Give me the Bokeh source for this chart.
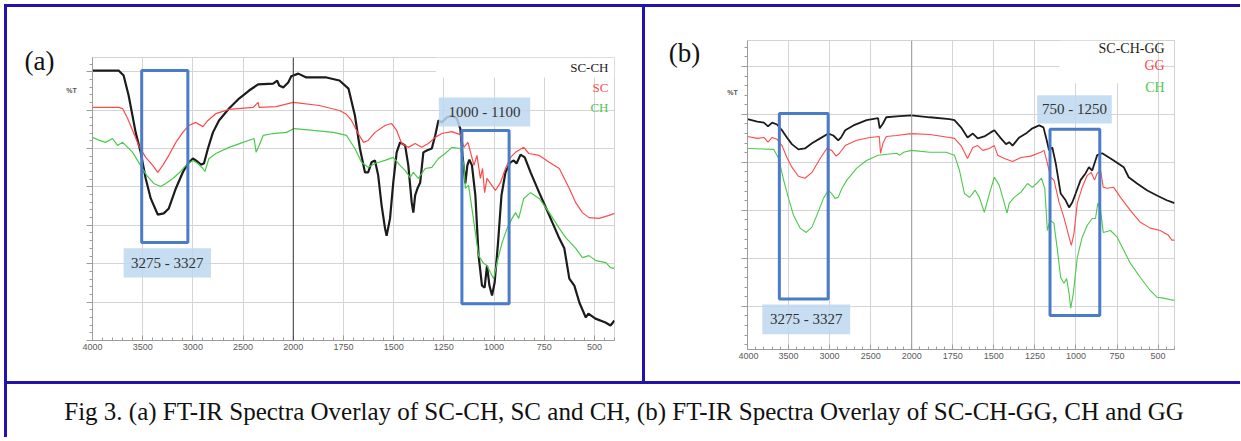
import numpy as np
from bokeh.plotting import figure
from bokeh.models import Range1d, FixedTicker, Span, Spacer, ColumnDataSource
from bokeh.layouts import row, column
from bokeh.embed import file_html
from bokeh.resources import INLINE
from bokeh.core.properties import value

# ---------------- data (wavenumber cm-1, %T arbitrary units) ----------------
TICK_WN = [4000, 3500, 3000, 2500, 2000, 1750, 1500, 1250, 1000, 750, 500]
MINOR_WN = list(range(4000, 2000, -100)) + list(range(2000, 399, -50))

# Panel (a)
A_SCCH_WN = [4000, 3740, 3690, 3640, 3570, 3520, 3470, 3420, 3350, 3290, 3240, 3170, 3100, 3050, 3000,
             2970, 2920, 2890, 2850, 2800, 2740, 2640, 2540, 2440, 2350, 2200, 2160, 2140, 2100, 2050,
             2020, 1975, 1935, 1835, 1770, 1725, 1693, 1668, 1643, 1627, 1610, 1593, 1577, 1560, 1543,
             1535, 1518, 1502, 1485, 1468, 1443, 1427, 1410, 1402, 1393, 1380, 1368, 1352, 1335, 1310,
             1293, 1277, 1260, 1235, 1210, 1185, 1168, 1157, 1143, 1133, 1123, 1110, 1093, 1077, 1060,
             1047, 1035, 1023, 1010, 997, 980, 963, 943, 918, 902, 888, 868, 847, 818, 775, 725, 675,
             650, 625, 600, 575, 543, 530, 495, 445, 420, 400]
A_SCCH_T = [70.3, 70.3, 69.0, 63.8, 54.2, 49.0, 42.2, 37.0, 32.8, 33.1, 34.4, 39.6, 43.8, 46.1, 47.4,
            46.9, 45.8, 46.1, 50.0, 54.2, 57.3, 60.4, 63.0, 65.1, 66.7, 66.9, 67.7, 66.4, 65.9, 67.2,
            68.8, 69.5, 68.5, 68.5, 67.7, 65.6, 58.6, 50.0, 43.8, 43.8, 46.4, 46.9, 43.0, 35.2, 29.2,
            27.3, 31.8, 41.1, 49.0, 51.6, 50.8, 45.6, 35.9, 33.3, 37.8, 39.8, 41.1, 49.0, 49.5, 50.0,
            53.4, 57.3, 56.8, 58.1, 58.6, 57.8, 55.2, 48.2, 40.9, 45.6, 47.1, 45.6, 37.8, 22.1, 14.3,
            13.8, 19.5, 14.3, 11.7, 15.1, 25.5, 37.8, 43.8, 46.4, 46.9, 46.1, 48.4, 47.7, 43.8, 38.5,
            32.6, 26.6, 24.0, 16.1, 14.3, 9.9, 6.0, 7.0, 5.7, 4.7, 3.9, 5.2]

A_SC_WN = [4000, 3740, 3700, 3650, 3600, 3540, 3470, 3400, 3350, 3300, 3240, 3170, 3100, 3040, 2970,
           2900, 2850, 2770, 2640, 2400, 2350, 2340, 2170, 2000, 1870, 1770, 1735, 1710, 1677, 1650,
           1627, 1593, 1543, 1510, 1485, 1460, 1427, 1393, 1360, 1327, 1293, 1260, 1210, 1168, 1150,
           1130, 1113, 1100, 1085, 1068, 1057, 1047, 1035, 1018, 993, 968, 943, 918, 893, 852, 827,
           775, 725, 675, 625, 593, 560, 527, 477, 427, 400]
A_SC_T = [60.7, 60.7, 60.4, 57.8, 54.7, 50.8, 47.7, 45.6, 43.8, 45.6, 48.2, 51.6, 54.2, 56.0, 56.8,
          55.7, 57.3, 59.1, 60.2, 60.7, 62.0, 60.7, 60.9, 62.0, 61.2, 59.9, 58.9, 57.3, 53.9, 51.6,
          52.1, 54.2, 56.0, 56.5, 54.7, 51.3, 50.3, 51.3, 50.3, 51.3, 52.9, 53.9, 54.4, 53.6, 50.3,
          51.6, 48.2, 45.6, 48.2, 42.2, 44.8, 38.5, 42.2, 40.9, 39.1, 41.1, 44.8, 47.7, 49.0, 50.3, 48.7,
          48.2, 46.4, 44.8, 39.6, 35.9, 33.3, 32.0, 31.8, 32.6, 33.1]

A_CH_WN = [4000, 3930, 3870, 3800, 3750, 3700, 3650, 3600, 3540, 3460, 3390, 3320, 3270, 3200, 3130,
           3070, 3000, 2950, 2900, 2880, 2840, 2770, 2640, 2500, 2390, 2370, 2340, 2300, 2200, 2070,
           1995, 1900, 1800, 1735, 1725, 1693, 1660, 1627, 1593, 1543, 1502, 1468, 1443, 1418, 1402,
           1377, 1343, 1310, 1277, 1243, 1210, 1168, 1150, 1143, 1127, 1100, 1077, 1052, 1035, 1018,
           1002, 985, 960, 935, 910, 893, 877, 852, 818, 775, 725, 675, 643, 593, 560, 527, 493, 443,
           420, 400]
A_CH_T = [52.9, 52.1, 51.6, 52.6, 50.8, 51.6, 50.3, 49.0, 46.4, 43.0, 40.9, 40.1, 40.9, 42.2, 43.8,
          45.6, 46.9, 46.1, 44.8, 44.0, 47.4, 48.7, 50.3, 51.6, 52.6, 49.0, 50.8, 53.4, 53.9, 54.2,
          55.2, 54.7, 54.2, 53.4, 52.6, 50.0, 46.4, 45.1, 46.1, 46.9, 47.7, 45.6, 44.3, 42.4, 43.8,
          42.2, 44.8, 45.1, 47.4, 48.7, 50.3, 50.0, 45.6, 39.6, 40.4, 30.7, 22.1, 20.1, 19.5, 17.7,
          16.1, 20.3, 25.5, 29.2, 31.8, 33.3, 31.8, 37.0, 38.5, 37.0, 33.3, 29.2, 26.8, 24.0, 21.6, 22.1,
          20.8, 20.3, 19.0, 18.8]

# Panel (b)
B_SCCHGG_WN = [4000, 3880, 3800, 3750, 3700, 3640, 3580, 3520, 3460, 3380, 3300, 3215, 3115, 3015, 2955,
               2895, 2860, 2810, 2710, 2550, 2410, 2390, 2350, 2310, 2185, 2005, 1890, 1770, 1740, 1700,
               1660, 1628, 1598, 1558, 1517, 1497, 1457, 1426, 1406, 1386, 1345, 1305, 1265, 1224, 1198,
               1178, 1164, 1144, 1123, 1093, 1063, 1042, 1022, 1002, 972, 942, 921, 901, 871, 840, 770,
               709, 679, 628, 568, 507, 447, 416, 400]
B_SCCHGG_T = [49.0, 48.5, 48.3, 47.5, 48.3, 47.9, 46.7, 45.2, 43.8, 42.7, 42.9, 44.0, 45.0, 46.0, 45.6,
              44.6, 45.2, 46.7, 47.7, 48.8, 49.2, 47.1, 48.1, 49.4, 49.6, 49.8, 49.4, 49.0, 48.8, 47.3,
              45.2, 46.0, 45.0, 45.4, 46.3, 46.7, 45.0, 43.8, 44.2, 43.5, 45.2, 46.0, 47.1, 47.7, 47.3,
              44.6, 42.5, 43.1, 39.8, 33.5, 32.1, 30.6, 31.7, 33.5, 36.3, 37.7, 39.0, 38.3, 41.5, 41.9, 40.4,
              39.0, 36.9, 35.6, 34.2, 33.1, 32.1, 31.7, 31.5]

B_GG_WN = [4000, 3880, 3800, 3750, 3700, 3640, 3580, 3520, 3460, 3380, 3300, 3215, 3115, 3035, 2975,
           2920, 2880, 2810, 2670, 2510, 2395, 2380, 2350, 2310, 2185, 2005, 1890, 1770, 1740, 1700,
           1660, 1628, 1598, 1568, 1527, 1497, 1477, 1436, 1386, 1335, 1275, 1214, 1194, 1174, 1154,
           1134, 1103, 1073, 1042, 1028, 1012, 992, 962, 931, 907, 887, 871, 850, 834, 810, 770, 729,
           669, 608, 548, 487, 437, 416, 400]
B_GG_T = [45.4, 45.0, 45.2, 44.2, 45.2, 44.8, 43.5, 41.0, 39.0, 37.1, 36.7, 37.9, 40.8, 42.9, 42.5,
          41.3, 41.9, 43.5, 44.6, 45.2, 45.4, 41.9, 44.0, 45.4, 45.6, 46.0, 45.8, 45.2, 45.0, 43.5,
          40.8, 43.1, 43.5, 42.5, 42.9, 43.5, 41.5, 40.8, 40.2, 41.0, 41.3, 42.1, 42.5, 39.8, 36.9,
          36.3, 31.7, 28.5, 24.4, 22.7, 25.2, 31.5, 34.8, 37.3, 37.9, 36.3, 37.7, 38.3, 34.8, 34.6, 34.8,
          32.7, 30.0, 27.5, 26.3, 25.8, 24.8, 23.8, 23.8]

B_CH_WN = [4000, 3680, 3620, 3560, 3500, 3440, 3360, 3285, 3215, 3155, 3075, 3015, 2975, 2935, 2895,
           2850, 2790, 2670, 2550, 2410, 2185, 2145, 2100, 2005, 1890, 1790, 1740, 1709, 1679, 1648,
           1614, 1588, 1558, 1527, 1497, 1467, 1436, 1420, 1406, 1376, 1335, 1295, 1265, 1234, 1210,
           1190, 1174, 1158, 1134, 1113, 1093, 1073, 1057, 1042, 1032, 1016, 992, 962, 931, 901, 881,
           867, 850, 834, 790, 749, 709, 669, 608, 548, 507, 467, 416, 400]
B_CH_T = [42.9, 42.7, 40.8, 36.3, 32.5, 29.0, 26.3, 25.4, 26.5, 29.0, 32.5, 34.2, 33.5, 32.5, 32.7,
          34.6, 36.3, 38.8, 40.4, 41.5, 41.9, 41.5, 42.1, 42.5, 42.1, 42.1, 41.5, 38.3, 33.5, 32.7,
          34.2, 32.7, 29.6, 33.5, 36.9, 35.2, 31.5, 29.4, 31.5, 32.7, 33.8, 35.6, 34.8, 35.8, 36.7,
          34.6, 25.8, 27.9, 27.3, 21.7, 16.0, 14.8, 15.8, 12.7, 9.6, 12.7, 20.2, 24.4, 26.9, 28.3, 28.3,
          31.5, 30.0, 25.4, 25.8, 24.4, 21.7, 19.0, 16.0, 13.3, 11.9, 11.7, 11.3, 11.3]

# highlighted wavenumber regions: (wn_high, wn_low, T_top, T_bottom)
A_REGIONS = [(3510, 3050, 70.3, 25.5), (1160, 925, 54.7, 9.6)]
A_REGION_TEXT = ["3275 - 3327", "1000 - 1100"]
A_TEXT_BOX = [(3690, 2820, 24.0, 16.4), (1275, 820, 63.3, 55.7)]

B_REGIONS = [(3612, 3018, 50.2, 11.5), (1158, 855, 46.9, 8.1)]
B_REGION_TEXT = ["3275 - 3327", "750 - 1250"]
B_TEXT_BOX = [(3820, 2750, 10.4, 4.2), (1236, 782, 54.0, 48.1)]

CAPTION = "Fig 3. (a) FT-IR Spectra Overlay of SC-CH, SC and CH, (b) FT-IR Spectra Overlay of SC-CH-GG, CH and GG"

BORDER = "#2312b0"
BLACK, RED, GREEN = "#1c1c1c", "#ff4a4a", "#4cc94c"
BOXBLUE = "#4a7cc9"
LABELBG = "#bdd7ee"
PANEL_H = 374


def to_u(wn):
    """Piecewise FT-IR axis: 4000-2000 compressed by 2x relative to 2000-400."""
    wn = np.asarray(wn, dtype=float)
    return np.where(wn >= 2000, (4000 - wn) / 2.0, 3000 - wn)


def make_panel(width, borders, yrange, series, regions, region_text, text_boxes,
               legend_xy, legend_size, white_box, line2000):
    left, right, top, bottom = borders
    p = figure(width=width, height=PANEL_H, x_range=Range1d(0, 2600), y_range=Range1d(*yrange),
               output_backend="svg", toolbar_location=None,
               min_border_left=left, min_border_right=right,
               min_border_top=top, min_border_bottom=bottom)
    p.frame_align = False
    p.background_fill_color = "white"
    p.border_fill_color = "white"
    p.outline_line_color = "#d2d2d2"

    ticks = [int(v) for v in to_u(TICK_WN)]
    p.xaxis.ticker = FixedTicker(ticks=ticks, minor_ticks=[int(v) for v in to_u(MINOR_WN)])
    p.xaxis.major_label_overrides = {t: str(w) for t, w in zip(ticks, TICK_WN)}
    p.xaxis.axis_line_color = "#9c9c9c"
    p.xaxis.major_tick_line_color = "#9c9c9c"
    p.xaxis.minor_tick_line_color = "#9c9c9c"
    p.xaxis.major_tick_in = 5
    p.xaxis.major_tick_out = 0
    p.xaxis.minor_tick_in = 3
    p.xaxis.minor_tick_out = 0
    p.xaxis.major_label_text_font = "Liberation Sans"
    p.xaxis.major_label_text_font_size = "9px"
    p.xaxis.major_label_text_color = "#5a5a5a"
    p.xaxis.major_label_standoff = 3

    yt = list(range(0, 80, 10))
    p.yaxis.ticker = FixedTicker(ticks=yt, minor_ticks=list(range(0, 76, 2)))
    p.yaxis.major_label_overrides = {t: "" for t in yt}
    p.yaxis.major_label_standoff = 0
    p.yaxis.axis_line_color = "#9c9c9c"
    p.yaxis.major_tick_line_color = "#9c9c9c"
    p.yaxis.minor_tick_line_color = "#9c9c9c"
    p.yaxis.major_tick_in = 0
    p.yaxis.major_tick_out = 6
    p.yaxis.minor_tick_in = 0
    p.yaxis.minor_tick_out = 3

    p.xgrid.grid_line_color = "#d4d4d4"
    p.ygrid.grid_line_color = "#d4d4d4"

    p.add_layout(Span(location=1000, dimension="height", line_color=line2000, line_width=1))

    # white area behind the legend
    wl, wr, wt, wb = white_box
    p.quad(left=[float(to_u(wl))], right=[float(to_u(wr))], top=[wt], bottom=[wb],
           fill_color="white", line_color=None)

    for wn, t, col, lw, _name in series:
        p.line(to_u(wn), t, line_color=col, line_width=lw)

    for (hi, lo, tp, bt) in regions:
        p.quad(left=[float(to_u(hi))], right=[float(to_u(lo))], top=[tp], bottom=[bt],
               fill_color=None, line_color=BOXBLUE, line_width=3)

    for txt, (hi, lo, tp, bt) in zip(region_text, text_boxes):
        p.quad(left=[float(to_u(hi))], right=[float(to_u(lo))], top=[tp], bottom=[bt],
               fill_color=LABELBG, fill_alpha=0.85, line_color=None)
        p.text(x=[float(to_u(hi) + to_u(lo)) / 2], y=[(tp + bt) / 2], text=[txt],
               text_font=value("Liberation Serif"), text_font_size="15px",
               text_color="#333333", text_align="center", text_baseline="middle")

    lx, ly = legend_xy
    src = ColumnDataSource(dict(x=[lx] * 3, y=ly, text=[s[4] for s in series],
                                color=[s[2] for s in series]))
    p.text(x="x", y="y", text="text", text_color="color", source=src,
           text_font=value("Liberation Serif"), text_font_size=legend_size,
           text_align="right", text_baseline="middle")
    return p


def make_tag(width, tag, tag_xy, pct_xy):
    """Narrow strip left of a panel holding the panel letter and the %T axis name."""
    t = figure(width=width, height=PANEL_H, x_range=Range1d(0, width), y_range=Range1d(0, PANEL_H),
               output_backend="svg", toolbar_location=None, x_axis_type=None, y_axis_type=None,
               min_border=0)
    t.frame_align = False
    t.grid.visible = False
    t.outline_line_color = None
    t.background_fill_color = "white"
    t.border_fill_color = "white"
    t.text(x=[tag_xy[0]], y=[tag_xy[1]], text=[tag], text_font=value("Liberation Serif"),
           text_font_size="27px", text_color="#111111", text_align="center", text_baseline="middle")
    t.text(x=[pct_xy[0]], y=[pct_xy[1]], text=["%T"], text_font=value("Liberation Sans"),
           text_font_size="7px", text_font_style="bold", text_color="#555555",
           text_align="center", text_baseline="middle")
    return t


spec_a = make_panel(
    563, (13, 28, 50, 41), (0, 73.7),
    [(A_SCCH_WN, A_SCCH_T, BLACK, 2.2, "SC-CH"),
     (A_SC_WN, A_SC_T, RED, 1.2, "SC"),
     (A_CH_WN, A_CH_T, GREEN, 1.2, "CH")],
    A_REGIONS, A_REGION_TEXT, A_TEXT_BOX,
    (2570, [71.1, 65.9, 60.7]), "13px",
    (1290, 400, 73.7, 68.5), "#3a3a3a")

spec_b = make_panel(
    502, (9, 66, 33, 32), (1.0, 65.4),
    [(B_SCCHGG_WN, B_SCCHGG_T, BLACK, 1.8, "SC-CH-GG"),
     (B_GG_WN, B_GG_T, RED, 1.1, "GG"),
     (B_CH_WN, B_CH_T, GREEN, 1.1, "CH")],
    B_REGIONS, B_REGION_TEXT, B_TEXT_BOX,
    (2540, [63.75, 60.2, 55.6]), "14px",
    (1100, 560, 65.4, 56.5), "#9a9a9a")

tag_a = make_tag(72, "(a)", (32, 321), (64, 291))
tag_b = make_tag(93, "(b)", (39, 329), (87, 289))

cap = figure(width=1233, height=53, x_range=Range1d(0, 1), y_range=Range1d(0, 1),
             output_backend="svg", toolbar_location=None, x_axis_type=None, y_axis_type=None,
             min_border=0)
cap.frame_align = False
cap.grid.visible = False
cap.outline_line_color = None
cap.background_fill_color = "white"
cap.border_fill_color = "white"
cap.text(x=[0.5], y=[0.5], text=[CAPTION], text_font=value("Liberation Serif"),
         text_font_size="25px", text_color="#111111", text_align="center", text_baseline="middle")


def bar(w, h):
    return Spacer(width=w, height=h, styles={"background-color": BORDER})


inner = column(
    bar(1236, 3),
    row(bar(3, PANEL_H), tag_a, spec_a, bar(3, PANEL_H), tag_b, spec_b),
    bar(1236, 3),
    row(bar(3, 53), cap),
)
layout = column(Spacer(width=1240, height=4), row(Spacer(width=4, height=433), inner))

open("out.html", "w").write(file_html(layout, INLINE))
